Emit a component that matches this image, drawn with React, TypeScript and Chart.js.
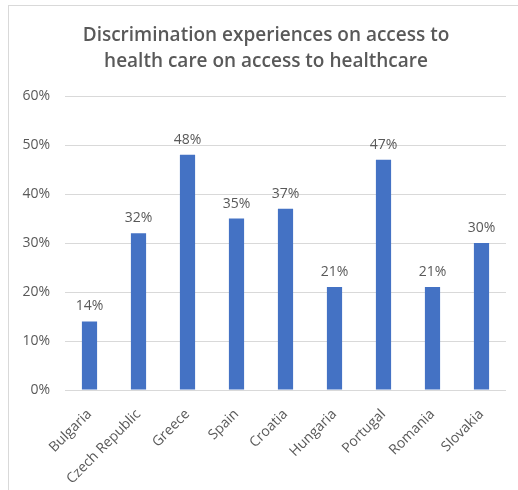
import React, { useEffect, useRef } from "react";
import { Chart, registerables } from "chart.js";

Chart.register(...registerables);

const categories = ["Bulgaria", "Czech Republic", "Greece", "Spain", "Croatia", "Hungaria", "Portugal", "Romania", "Slovakia"];
const values = [14, 32, 48, 35, 37, 21, 47, 21, 30];
const titleLines = ["Discrimination experiences on access to", "health care on access to healthcare"];
const yTicks = [0, 10, 20, 30, 40, 50, 60];

const FONT = "'Open Sans', 'Noto Sans', sans-serif";
const TEXT = "#595959";

const dataLabels = {
  id: "dataLabels",
  afterDatasetsDraw(chart: any) {
    const ctx = chart.ctx;
    const meta = chart.getDatasetMeta(0);
    ctx.save();
    ctx.fillStyle = TEXT;
    ctx.font = `14px ${FONT}`;
    ctx.textAlign = "center";
    ctx.textBaseline = "alphabetic";
    meta.data.forEach((bar: any, i: number) => {
      ctx.fillText(values[i] + "%", bar.x, bar.y - 11);
    });
    ctx.restore();
  },
};

const titleDraw = {
  id: "titleDraw",
  afterDraw(chart: any) {
    const ctx = chart.ctx;
    ctx.save();
    ctx.fillStyle = TEXT;
    ctx.font = `600 19px ${FONT}`;
    ctx.textAlign = "center";
    ctx.textBaseline = "alphabetic";
    titleLines.forEach((line, i) => {
      ctx.fillText(line, 266, 41 + i * 26);
    });
    ctx.restore();
  },
};

export default function App() {
  const ref = useRef<HTMLCanvasElement | null>(null);
  useEffect(() => {
    if (!ref.current) return;
    const chart = new Chart(ref.current, {
      type: "bar",
      data: {
        labels: categories,
        datasets: [
          {
            data: values,
            backgroundColor: "#4472C4",
            categoryPercentage: 1,
            barPercentage: 0.31,
          },
        ],
      },
      options: {
        animation: false,
        responsive: false,
        maintainAspectRatio: false,
        layout: { padding: { left: 0, right: 12, top: 96, bottom: 0 } },
        plugins: {
          legend: { display: false },
          tooltip: { enabled: false },
          title: { display: false },
        },
        scales: {
          x: {
            grid: { display: false },
            border: { display: false },
            ticks: {
              color: TEXT,
              font: { family: FONT, size: 14 },
              minRotation: 45,
              maxRotation: 45,
              padding: 8,
            },
            afterFit(scale: any) {
              scale.height = 100;
            },
          },
          y: {
            min: 0,
            max: 60,
            afterBuildTicks(scale: any) {
              scale.ticks = yTicks.map((v) => ({ value: v }));
            },
            grid: { color: "#d9d9d9", lineWidth: 1, drawTicks: false },
            border: { display: false },
            ticks: {
              color: TEXT,
              font: { family: FONT, size: 14 },
              padding: 15,
              callback: (v: any) => v + "%",
            },
            afterFit(scale: any) {
              scale.width = 65;
            },
          },
        },
      },
      plugins: [dataLabels, titleDraw],
    });
    return () => chart.destroy();
  }, []);

  return (
    <>
      <div
        style={{
          position: "fixed",
          left: 8,
          top: 5,
          width: 520,
          height: 500,
          borderLeft: "1px solid #d9d9d9",
          borderTop: "1px solid #d9d9d9",
          background: "#fff",
        }}
      />
      <canvas
        ref={ref}
        width={518}
        height={490}
        style={{ position: "fixed", left: 0, top: 0, width: 518, height: 490 }}
      />
    </>
  );
}
